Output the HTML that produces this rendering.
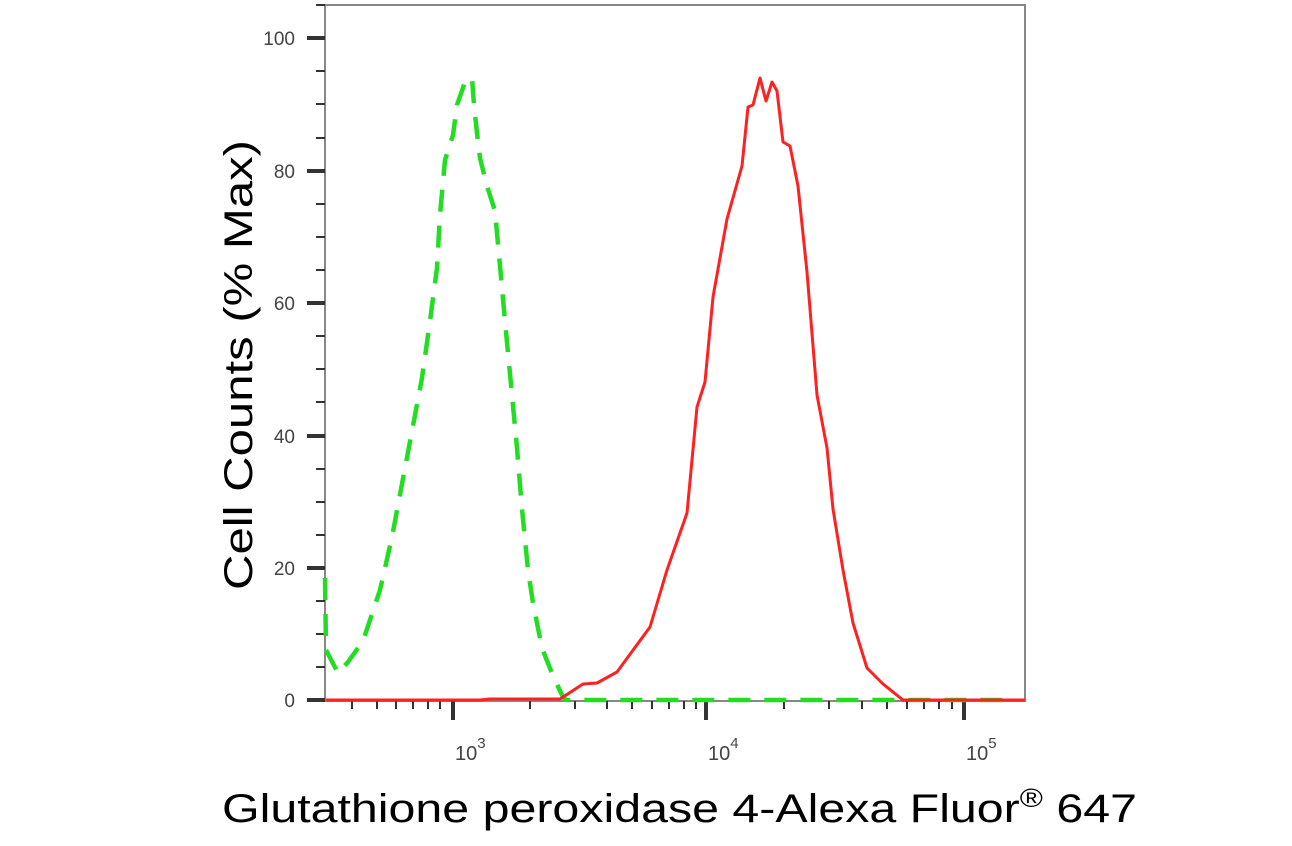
<!DOCTYPE html>
<html><head><meta charset="utf-8"><style>
html,body{margin:0;padding:0;background:#fff;}
svg{display:block;}
</style></head><body>
<svg width="1292" height="846" viewBox="0 0 1292 846" xmlns="http://www.w3.org/2000/svg">
<rect width="1292" height="846" fill="#fff"/>
<!-- frame -->
<rect x="325" y="5" width="700" height="696" fill="none" stroke="#888" stroke-width="2"/>
<!-- y ticks -->
<g stroke="#333" stroke-width="2">
<line x1="307" y1="38" x2="325" y2="38" stroke-width="4"/>
<line x1="307" y1="171" x2="325" y2="171" stroke-width="4"/>
<line x1="307" y1="303" x2="325" y2="303" stroke-width="4"/>
<line x1="307" y1="436" x2="325" y2="436" stroke-width="4"/>
<line x1="307" y1="568" x2="325" y2="568" stroke-width="4"/>
<line x1="307" y1="700" x2="325" y2="700" stroke-width="4"/>
<line x1="316" y1="5" x2="325" y2="5"/>
<line x1="316" y1="71" x2="325" y2="71"/>
<line x1="316" y1="104" x2="325" y2="104"/>
<line x1="316" y1="138" x2="325" y2="138"/>
<line x1="316" y1="204" x2="325" y2="204"/>
<line x1="316" y1="237" x2="325" y2="237"/>
<line x1="316" y1="270" x2="325" y2="270"/>
<line x1="316" y1="336" x2="325" y2="336"/>
<line x1="316" y1="369" x2="325" y2="369"/>
<line x1="316" y1="402" x2="325" y2="402"/>
<line x1="316" y1="469" x2="325" y2="469"/>
<line x1="316" y1="502" x2="325" y2="502"/>
<line x1="316" y1="535" x2="325" y2="535"/>
<line x1="316" y1="601" x2="325" y2="601"/>
<line x1="316" y1="634" x2="325" y2="634"/>
<line x1="316" y1="667" x2="325" y2="667"/>
</g>
<g font-family="Liberation Sans, sans-serif" font-size="19" fill="#444" text-anchor="end">
<text x="295" y="45">100</text>
<text x="295" y="178">80</text>
<text x="295" y="310">60</text>
<text x="295" y="443">40</text>
<text x="295" y="575">20</text>
<text x="295" y="707">0</text>
</g>
<!-- x ticks -->
<g stroke="#333" stroke-width="2">
<line x1="352" y1="701" x2="352" y2="709"/>
<line x1="377" y1="701" x2="377" y2="709"/>
<line x1="396" y1="701" x2="396" y2="709"/>
<line x1="413" y1="701" x2="413" y2="709"/>
<line x1="428" y1="701" x2="428" y2="709"/>
<line x1="440" y1="701" x2="440" y2="709"/>
<line x1="453" y1="701" x2="453" y2="720" stroke-width="4"/>
<line x1="530" y1="701" x2="530" y2="709"/>
<line x1="575" y1="701" x2="575" y2="709"/>
<line x1="607" y1="701" x2="607" y2="709"/>
<line x1="632" y1="701" x2="632" y2="709"/>
<line x1="652" y1="701" x2="652" y2="709"/>
<line x1="669" y1="701" x2="669" y2="709"/>
<line x1="684" y1="701" x2="684" y2="709"/>
<line x1="696" y1="701" x2="696" y2="709"/>
<line x1="706" y1="701" x2="706" y2="720" stroke-width="4"/>
<line x1="784" y1="701" x2="784" y2="709"/>
<line x1="829" y1="701" x2="829" y2="709"/>
<line x1="862" y1="701" x2="862" y2="709"/>
<line x1="887" y1="701" x2="887" y2="709"/>
<line x1="907" y1="701" x2="907" y2="709"/>
<line x1="924" y1="701" x2="924" y2="709"/>
<line x1="939" y1="701" x2="939" y2="709"/>
<line x1="952" y1="701" x2="952" y2="709"/>
<line x1="964" y1="701" x2="964" y2="720" stroke-width="4"/>
</g>
<g font-family="Liberation Sans, sans-serif" font-size="20" fill="#444">
<text x="455" y="760">10<tspan font-size="15" dy="-12">3</tspan></text>
<text x="708" y="760">10<tspan font-size="15" dy="-12">4</tspan></text>
<text x="966" y="760">10<tspan font-size="15" dy="-12">5</tspan></text>
</g>
<!-- green dashed -->
<polyline fill="none" stroke="#22dd22" stroke-width="4.5" stroke-dasharray="22,14" stroke-linejoin="round"
points="325,578 326,650 338,673 348,662 363,641 380,590 392,537 402,484 412,431 422,378 430,321 437,268 440,215 445,160 453,135 457,105 465,82 472,78 474,105 477,133 480,158 487,186 495,211 498,244 505,321 510,374 517,448 522,509 528,570 533,603 542,648 553,676 563,697 566,700 1005,700"/>
<!-- red -->
<polyline fill="none" stroke="#ff2020" stroke-width="3" stroke-linejoin="round"
points="326,700 480,700 490,699 560,699 583,684 597,683 617,672 650,627 667,570 687,513 697,407 705,382 713,297 727,219 742,166 748,107 753,105 760,78 766,101 772,82 777,91 783,142 790,146 798,186 807,272 817,395 827,448 833,509 843,570 853,623 867,668 883,684 903,700 1025,700"/>
<!-- titles -->
<text x="0" y="0" transform="translate(252,365) rotate(-90)" text-anchor="middle" font-family="Liberation Sans, sans-serif" font-size="40" fill="#000" textLength="450" lengthAdjust="spacingAndGlyphs">Cell Counts (% Max)</text>
<text x="222" y="822" font-family="Liberation Sans, sans-serif" font-size="40" fill="#000" textLength="915" lengthAdjust="spacingAndGlyphs">Glutathione peroxidase 4-Alexa Fluor<tspan font-size="26" dy="-15">®</tspan><tspan dy="15"> 647</tspan></text>
</svg>
</body></html>
